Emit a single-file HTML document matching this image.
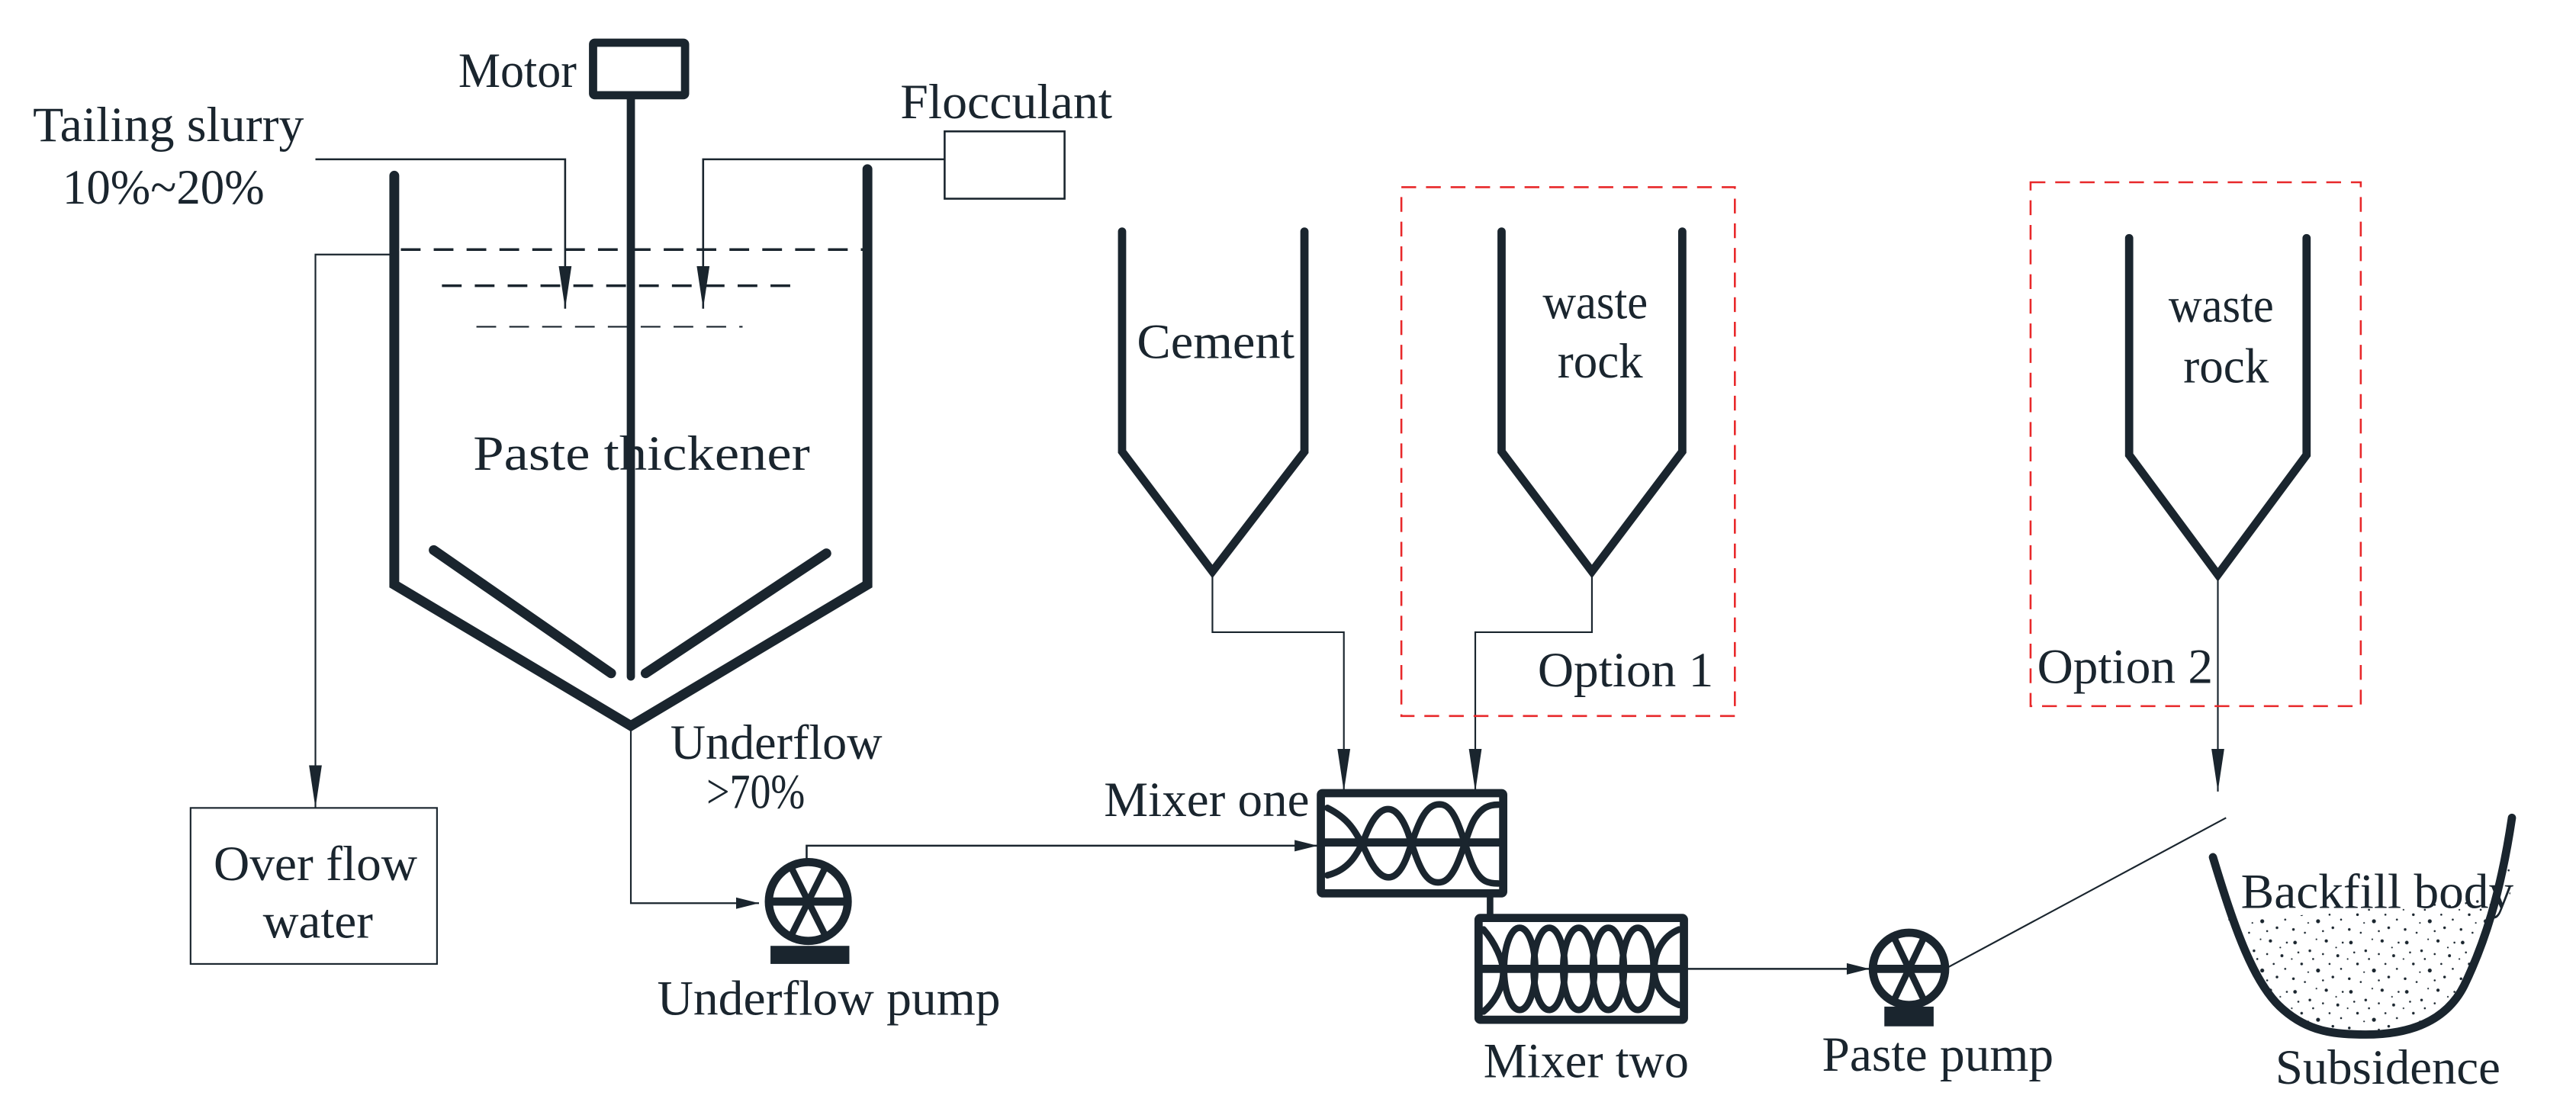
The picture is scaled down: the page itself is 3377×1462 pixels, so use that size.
<!DOCTYPE html>
<html><head><meta charset="utf-8"><style>
html,body{margin:0;padding:0;background:#fff;}
svg{display:block;}
text{font-family:"Liberation Serif",serif;fill:#1a252e;font-size:30px;}
</style></head><body>
<svg width="3377" height="1462" viewBox="0 0 1568 679" preserveAspectRatio="none" xmlns="http://www.w3.org/2000/svg">
<defs>
<marker id="ar" viewBox="0 0 10 10" refX="10" refY="5" markerWidth="14" markerHeight="14" markerUnits="userSpaceOnUse" orient="auto"><path d="M0,2.5 L10,5 L0,7.5 Z" fill="#1a252e"/></marker>
<marker id="ad" viewBox="0 0 10 10" refX="10" refY="5" markerWidth="26" markerHeight="26" markerUnits="userSpaceOnUse" orient="auto"><path d="M0,3.5 L10,5 L0,6.5 Z" fill="#1a252e"/></marker>
<pattern id="sp" width="34" height="30" patternUnits="userSpaceOnUse">
<g fill="#1a252e">
<circle cx="3" cy="4" r="1.1"/><circle cx="12" cy="9" r="0.8"/><circle cx="22" cy="3" r="1"/><circle cx="29" cy="12" r="0.9"/>
<circle cx="7" cy="17" r="0.8"/><circle cx="17" cy="21" r="1.2"/><circle cx="26" cy="25" r="0.8"/><circle cx="2" cy="26" r="0.8"/>
<circle cx="14" cy="14" r="0.6"/><circle cx="31" cy="20" r="0.6"/><circle cx="9" cy="28" r="0.6"/><circle cx="20" cy="11" r="0.6"/>
<circle cx="24" cy="17" r="0.6"/><circle cx="5" cy="10" r="0.6"/><circle cx="32" cy="4" r="0.6"/><circle cx="16" cy="2" r="0.5"/>
<circle cx="11" cy="22" r="0.5"/><circle cx="20" cy="27" r="0.6"/><circle cx="28" cy="7" r="0.5"/><circle cx="1" cy="14" r="0.5"/>
</g></pattern>
<clipPath id="bc"><path d="M1352,562 L1528,545 L1529,498 C1522,545 1512,575 1500,600 C1490,620 1470,630 1440,630 C1420,630 1405,628 1390,615 C1372,600 1362,572 1352,545 Z"/></clipPath>
</defs>
<g stroke="#1a252e" fill="none" stroke-linecap="round" stroke-linejoin="miter">
<rect x="361" y="26" width="56" height="32" stroke-width="5" rx="1"/>
<line x1="384" y1="60" x2="384" y2="412" stroke-width="5"/>
<path d="M240,107 L240,356 L384,442 L528,356 L528,103" stroke-width="6"/>
<line x1="264" y1="335" x2="372" y2="410" stroke-width="6"/>
<line x1="393" y1="410" x2="503" y2="337" stroke-width="6"/>
<line x1="244" y1="152" x2="526" y2="152" stroke-width="1.6" stroke-dasharray="12,8" stroke-linecap="butt"/>
<line x1="269" y1="174" x2="483" y2="174" stroke-width="1.6" stroke-dasharray="12,8" stroke-linecap="butt"/>
<line x1="290" y1="199" x2="452" y2="199" stroke-width="1" stroke-dasharray="12,8" stroke-linecap="butt"/>
<path d="M192,97 L344,97 L344,188" stroke-width="1.2" stroke-linecap="butt" marker-end="url(#ad)"/>
<path d="M575,97 L428,97 L428,188" stroke-width="1.2" stroke-linecap="butt" marker-end="url(#ad)"/>
<rect x="575" y="80" width="73" height="41" stroke-width="1.2"/>
<path d="M240,155 L192,155 L192,293 L192,492" stroke-width="1" stroke-linecap="butt" marker-end="url(#ad)"/>
<rect x="116" y="492" width="150" height="95" stroke-width="1"/>
<path d="M384,442 L384,550 L462,550" stroke-width="1" stroke-linecap="butt" marker-end="url(#ar)"/>
<circle cx="492" cy="549" r="24" stroke-width="5"/>
<line x1="468" y1="549" x2="516" y2="549" stroke-width="5" stroke-linecap="butt"/>
<line x1="481" y1="527" x2="503" y2="571" stroke-width="4" stroke-linecap="butt"/>
<line x1="503" y1="527" x2="481" y2="571" stroke-width="4" stroke-linecap="butt"/>
<rect x="469" y="576" width="48" height="11" fill="#1a252e" stroke="none"/>
<path d="M491,524 L491,515 L802,515" stroke-width="1.2" stroke-linecap="butt" marker-end="url(#ar)"/>
<path d="M683,141 L683,275 L738,348 L794,275 L794,141" stroke-width="5"/>
<path d="M914,141 L914,275 L969,348 L1024,275 L1024,141" stroke-width="5"/>
<path d="M1296,145 L1296,277 L1350,350 L1404,277 L1404,145" stroke-width="5"/>
<path d="M738,348 L738,385 L818,385 L818,482" stroke-width="1" stroke-linecap="butt" marker-end="url(#ad)"/>
<path d="M969,348 L969,385 L898,385 L898,482" stroke-width="1" stroke-linecap="butt" marker-end="url(#ad)"/>
<path d="M1350,350 L1350,482" stroke-width="1" stroke-linecap="butt" marker-end="url(#ad)"/>
<rect x="853" y="114" width="203" height="322" stroke="#e8282a" stroke-width="1.2" stroke-dasharray="9,6" stroke-linecap="butt"/>
<rect x="1236" y="111" width="201" height="319" stroke="#e8282a" stroke-width="1.2" stroke-dasharray="9,6" stroke-linecap="butt"/>
<rect x="804" y="483" width="111" height="61" stroke-width="5" rx="1"/>
<line x1="806" y1="513" x2="913" y2="513" stroke-width="5" stroke-linecap="butt"/>
<path d="M808,492 C820,498 825,505 832,520 C840,538 850,540 857,520 C863,503 867,488 878,490 C888,492 892,520 898,530 C902,537 906,538 912,538" stroke-width="4"/>
<path d="M808,533 C820,530 826,522 832,507 C840,488 850,488 857,507 C863,525 867,540 878,537 C888,534 892,507 898,498 C902,492 906,490 912,490" stroke-width="4"/>
<line x1="907" y1="544" x2="907" y2="558" stroke-width="4" stroke-linecap="butt"/>
<rect x="900" y="559" width="125" height="62" stroke-width="5" rx="1"/>
<line x1="902" y1="590" x2="1023" y2="590" stroke-width="5" stroke-linecap="butt"/>
<g stroke-width="4">
<ellipse cx="925" cy="590" rx="9.5" ry="25"/>
<ellipse cx="943" cy="590" rx="9.5" ry="25"/>
<ellipse cx="961" cy="590" rx="9.5" ry="25"/>
<ellipse cx="979" cy="590" rx="9.5" ry="25"/>
<ellipse cx="997" cy="590" rx="9.5" ry="25"/>
<path d="M903,566 C910,574 915,585 915,592 C915,603 908,612 903,616"/>
<path d="M1022,566 C1012,570 1007,580 1007,590 C1007,600 1012,608 1022,612"/>
</g>
<line x1="1027" y1="590" x2="1138" y2="590" stroke-width="1.2" stroke-linecap="butt" marker-end="url(#ar)"/>
<circle cx="1162" cy="590" r="22" stroke-width="5"/>
<line x1="1140" y1="590" x2="1184" y2="590" stroke-width="5" stroke-linecap="butt"/>
<line x1="1152" y1="569" x2="1172" y2="611" stroke-width="4" stroke-linecap="butt"/>
<line x1="1172" y1="569" x2="1152" y2="611" stroke-width="4" stroke-linecap="butt"/>
<rect x="1147" y="613" width="30" height="12" fill="#1a252e" stroke="none"/>
<line x1="1184" y1="590" x2="1355" y2="498" stroke-width="1" stroke-linecap="butt"/>
<rect x="1340" y="490" width="200" height="145" fill="url(#sp)" stroke="none" clip-path="url(#bc)"/>
<path d="M1347,522 C1360,565 1372,600 1390,615 C1405,628 1420,630 1440,630 C1470,630 1490,620 1500,600 C1512,575 1522,545 1529,498" stroke-width="5"/>
</g>
<text x="279" y="53" textLength="72" lengthAdjust="spacingAndGlyphs">Motor</text>
<text x="20" y="86" textLength="165" lengthAdjust="spacingAndGlyphs">Tailing slurry</text>
<text x="38" y="124" textLength="123" lengthAdjust="spacingAndGlyphs">10%~20%</text>
<text x="548" y="72" textLength="129" lengthAdjust="spacingAndGlyphs">Flocculant</text>
<text x="288" y="286" textLength="205" lengthAdjust="spacingAndGlyphs">Paste thickener</text>
<text x="692" y="218" textLength="96" lengthAdjust="spacingAndGlyphs">Cement</text>
<text x="939" y="194" textLength="64" lengthAdjust="spacingAndGlyphs">waste</text>
<text x="948" y="230" textLength="52" lengthAdjust="spacingAndGlyphs">rock</text>
<text x="1320" y="196" textLength="64" lengthAdjust="spacingAndGlyphs">waste</text>
<text x="1329" y="233" textLength="52" lengthAdjust="spacingAndGlyphs">rock</text>
<text x="936" y="418" textLength="107" lengthAdjust="spacingAndGlyphs">Option 1</text>
<text x="1240" y="416" textLength="107" lengthAdjust="spacingAndGlyphs">Option 2</text>
<text x="408" y="462" textLength="129" lengthAdjust="spacingAndGlyphs">Underflow</text>
<text x="430" y="492" textLength="60" lengthAdjust="spacingAndGlyphs">&gt;70%</text>
<text x="672" y="497" textLength="125" lengthAdjust="spacingAndGlyphs">Mixer one</text>
<text x="130" y="536" textLength="124" lengthAdjust="spacingAndGlyphs">Over flow</text>
<text x="160" y="571" textLength="67" lengthAdjust="spacingAndGlyphs">water</text>
<text x="400" y="618" textLength="209" lengthAdjust="spacingAndGlyphs">Underflow pump</text>
<text x="903" y="656" textLength="125" lengthAdjust="spacingAndGlyphs">Mixer two</text>
<text x="1109" y="652" textLength="141" lengthAdjust="spacingAndGlyphs">Paste pump</text>
<text x="1364" y="553" textLength="166" lengthAdjust="spacingAndGlyphs">Backfill body</text>
<text x="1385" y="660" textLength="137" lengthAdjust="spacingAndGlyphs">Subsidence</text>
</svg>
</body></html>
